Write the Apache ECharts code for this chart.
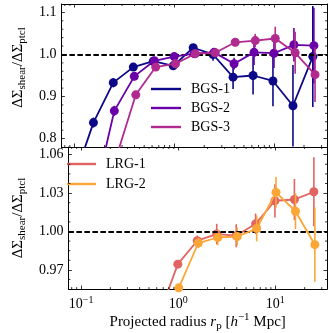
<!DOCTYPE html>
<html>
<head>
<meta charset="utf-8">
<script src="https://cdn.jsdelivr.net/npm/echarts@6/dist/echarts.min.js"></script>
<style>
  html, body { margin: 0; padding: 0; background: #fff; }
  #chart { width: 333px; height: 333px; }
</style>
</head>
<body>
<div id="chart"></div>
<script>
// projected radius of each bin [h^-1 Mpc], one list per sample (small offsets as in the plot)
const rBGS1 = [0.098, 0.155, 0.245, 0.389, 0.617, 0.977, 1.55, 2.45, 3.89, 6.17, 9.77, 15.5, 24.5];
const rBGS2 = [0.158, 0.251, 0.398, 0.631, 1.0, 1.585, 2.512, 3.981, 6.31, 10.0, 15.85, 25.12];
const rBGS3 = [0.262, 0.412, 0.652, 1.03, 1.63, 2.58, 4.09, 6.49, 10.3, 16.3, 25.8];
const rLRG1 = [0.624, 0.99, 1.57, 2.49, 3.95, 6.26, 9.9, 15.7, 24.9];
const rLRG2 = [0.638, 1.012, 1.61, 2.55, 4.05, 6.42, 10.15, 16.1, 25.5];

// ratio DeltaSigma_shear / DeltaSigma_ptcl and its error
const yBGS1 = [0.70, 0.838, 0.933, 0.970, 0.984, 0.973, 1.016, 1.000, 0.946, 0.950, 0.937, 0.878, 0.995];
const eBGS1 = [0.015, 0.012, 0.011, 0.008, 0.006, 0.007, 0.008, 0.015, 0.028, 0.045, 0.060, 0.097, 0.120];
const yBGS2 = [0.66, 0.866, 0.948, 0.985, 0.995, 1.002, 1.005, 0.978, 1.005, 1.003, 1.023, 1.021];
const eBGS2 = [0.015, 0.012, 0.009, 0.006, 0.005, 0.005, 0.006, 0.014, 0.030, 0.035, 0.040, 0.090];
const yBGS3 = [0.755, 0.904, 0.970, 0.978, 1.002, 1.004, 1.029, 1.033, 1.038, 1.004, 0.952];
const eBGS3 = [0.010, 0.008, 0.007, 0.006, 0.005, 0.006, 0.010, 0.016, 0.028, 0.050, 0.065];
const yLRG1 = [0.933, 0.9745, 0.9928, 0.998, 0.9967, 1.006, 1.024, 1.025, 1.031];
const eLRG1 = [0.004, 0.003, 0.004, 0.008, 0.009, 0.008, 0.013, 0.016, 0.027];
const yLRG2 = [0.90, 0.956, 0.991, 0.9953, 0.9961, 1.0023, 1.0306, 1.0158, 0.9897];
const eLRG2 = [0.004, 0.003, 0.004, 0.006, 0.007, 0.010, 0.012, 0.014, 0.029];

// axis ranges, tick values and minor ticks
const X_MIN = 0.074, X_MAX = 34;
const Y_TOP = [0.78, 1.12];
const Y_BOT = [0.955, 1.066];
const yTicksTop = [0.8, 0.9, 1.0, 1.1];
const yTicksBot = [0.97, 1.00, 1.03, 1.06];
const xMinor = [0.08, 0.09, 0.2, 0.3, 0.4, 0.5, 0.6, 0.7, 0.8, 0.9,
                2, 3, 4, 5, 6, 7, 8, 9, 20, 30];
const yMinorTop = [0.82, 0.84, 0.86, 0.88, 0.92, 0.94, 0.96, 0.98, 1.02, 1.04, 1.06, 1.08];
const yMinorBot = [0.9625, 0.9775, 0.985, 0.9925, 1.0075, 1.015, 1.0225, 1.0375, 1.045, 1.0525];

const colors = ['#0d0887', '#6a00a8', '#b12a90', '#e16462', '#fca636'];
const FONT = 'Liberation Serif';

const chart = echarts.init(document.getElementById('chart'));

function zip(r, y, e) {
  return r.map((v, i) => e ? [v, y[i], e[i]] : [v, y[i]]);
}

function lineSeries(name, r, y, color, g, z) {
  return {
    name: name, type: 'line', xAxisIndex: g * 2, yAxisIndex: g * 2,
    data: zip(r, y), symbol: 'circle', symbolSize: 9, showAllSymbol: true,
    color: color, lineStyle: { width: 1.8, color: color },
    itemStyle: { color: color }, clip: true, z: z, animation: false
  };
}

function errSeries(name, r, y, e, color, g, z) {
  return {
    name: name + ' err', type: 'custom', xAxisIndex: g * 2, yAxisIndex: g * 2,
    data: zip(r, y, e), clip: true, z: z, silent: true, animation: false,
    renderItem: function (params, api) {
      const lo = api.coord([api.value(0), api.value(1) - api.value(2)]);
      const hi = api.coord([api.value(0), api.value(1) + api.value(2)]);
      return {
        type: 'line',
        shape: { x1: lo[0], y1: lo[1], x2: hi[0], y2: hi[1] },
        style: { stroke: color, lineWidth: 1.6 }
      };
    }
  };
}

// minor ticks drawn on all four sides of a panel
function minorTickSeries(g, yr, yMinor) {
  const data = xMinor.map(v => [v, yr[0], 0]).concat(yMinor.map(v => [X_MIN, v, 1]));
  return {
    type: 'custom', xAxisIndex: g * 2, yAxisIndex: g * 2, data: data,
    silent: true, animation: false, z: 10,
    renderItem: function (params, api) {
      const k = api.value(2);
      const len = 2;
      const st = { stroke: '#000', lineWidth: 0.8 };
      if (k === 0) {
        const b = api.coord([api.value(0), yr[0]]);
        const t = api.coord([api.value(0), yr[1]]);
        return { type: 'group', children: [
          { type: 'line', shape: { x1: b[0], y1: b[1], x2: b[0], y2: b[1] - len }, style: st },
          { type: 'line', shape: { x1: t[0], y1: t[1], x2: t[0], y2: t[1] + len }, style: st }
        ]};
      }
      const l = api.coord([X_MIN, api.value(1)]);
      const r = api.coord([X_MAX, api.value(1)]);
      return { type: 'group', children: [
        { type: 'line', shape: { x1: l[0], y1: l[1], x2: l[0] + len, y2: l[1] }, style: st },
        { type: 'line', shape: { x1: r[0], y1: r[1], x2: r[0] - len, y2: r[1] }, style: st }
      ]};
    }
  };
}

function refLine(g) {
  return {
    type: 'line', xAxisIndex: g * 2, yAxisIndex: g * 2, data: [], z: 1, silent: true,
    markLine: {
      silent: true, symbol: 'none', animation: false, label: { show: false },
      lineStyle: { color: '#000', width: 1.8, type: [5.5, 2.5] },
      data: [{ yAxis: 1 }]
    }
  };
}

const rich = {
  a: { fontFamily: FONT, fontSize: 15, lineHeight: 20, color: '#000' },
  s: { fontFamily: FONT, fontSize: 11, lineHeight: 11, verticalAlign: 'bottom', color: '#000' },
  i: { fontFamily: FONT, fontSize: 15, lineHeight: 20, fontStyle: 'italic', color: '#000' },
  sup: { fontFamily: FONT, fontSize: 11, lineHeight: 11, verticalAlign: 'top', color: '#000' },
  gap: { width: 16, lineHeight: 20 }
};

function xAxisPair(g, labels) {
  const base = {
    type: 'log', gridIndex: g, min: X_MIN, max: X_MAX, logBase: 10,
    axisLine: { show: true, lineStyle: { color: '#000', width: 1 } },
    axisTick: { show: true, inside: true, length: 3.5, lineStyle: { color: '#000', width: 0.8 } },
    splitLine: { show: false }
  };
  const bottom = Object.assign({}, base, {
    position: 'bottom',
    axisLabel: {
      show: labels, margin: 6, color: '#000', fontFamily: FONT, fontSize: 14,
      formatter: function (v) {
        const l = Math.log10(v);
        if (Math.abs(l - Math.round(l)) > 1e-6) return '';
        const n = Math.round(l);
        return '{b|10}{p|' + (n < 0 ? '\u2212' + (-n) : n) + '}';
      },
      rich: {
        b: { fontFamily: FONT, fontSize: 14, lineHeight: 18, color: '#000' },
        p: { fontFamily: FONT, fontSize: 10, lineHeight: 10, verticalAlign: 'top', color: '#000' }
      }
    }
  });
  if (labels) {
    bottom.name = 'Projected radius {i|r}{s|p} {a|[}{i|h}{sup|\u22121}{a| Mpc]}';
    bottom.nameLocation = 'middle';
    bottom.nameGap = 17;
    bottom.nameTextStyle = { fontFamily: FONT, fontSize: 15, lineHeight: 20, color: '#000', rich: rich };
  }
  const top = Object.assign({}, base, { position: 'top', axisLabel: { show: false } });
  return [bottom, top];
}

function yAxisPair(g, yr, ticks, digits, shift) {
  const base = {
    type: 'value', gridIndex: g, min: yr[0], max: yr[1],
    axisLine: { show: true, lineStyle: { color: '#000', width: 1 } },
    axisTick: { show: true, inside: true, length: 3.5, customValues: ticks,
                lineStyle: { color: '#000', width: 0.8 } },
    splitLine: { show: false }
  };
  const left = Object.assign({}, base, {
    position: 'left',
    axisLabel: {
      margin: 5, color: '#000', fontFamily: FONT, fontSize: 14, customValues: ticks,
      formatter: function (v) { return v.toFixed(digits); }
    },
    name: (shift ? '{gap|}' : '') + '{a|\u0394\u03a3}{s|shear}{a|/\u0394\u03a3}{s|ptcl}',
    nameLocation: 'middle', nameRotate: 90, nameGap: 27,
    nameTextStyle: { fontFamily: FONT, fontSize: 15, lineHeight: 20, color: '#000', rich: rich }
  });
  const right = Object.assign({}, base, { position: 'right', axisLabel: { show: false } });
  return [left, right];
}

const option = {
  animation: false,
  backgroundColor: '#fff',
  grid: [
    { left: 53, top: 4, width: 274, height: 143 },
    { left: 53, top: 147, width: 274, height: 143 }
  ],
  xAxis: xAxisPair(0, false).concat(xAxisPair(1, true)),
  yAxis: yAxisPair(0, Y_TOP, yTicksTop, 1, true).concat(yAxisPair(1, Y_BOT, yTicksBot, 2, false)),
  legend: [
    {
      data: ['BGS-1', 'BGS-2', 'BGS-3'], orient: 'vertical', left: 151, top: 82,
      padding: 0, itemGap: 5, itemWidth: 30, itemHeight: 2.4, icon: 'rect',
      textStyle: { fontFamily: FONT, fontSize: 14, color: '#000', padding: [0, 0, 0, 5] },
      selectedMode: false
    },
    {
      data: ['LRG-1', 'LRG-2'], orient: 'vertical', left: 67, top: 157,
      padding: 0, itemGap: 6, itemWidth: 29, itemHeight: 2.4, icon: 'rect',
      textStyle: { fontFamily: FONT, fontSize: 14, color: '#000', padding: [0, 0, 0, 5] },
      selectedMode: false
    }
  ],
  series: [
    refLine(0), refLine(1),
    errSeries('BGS-1', rBGS1, yBGS1, eBGS1, colors[0], 0, 2),
    lineSeries('BGS-1', rBGS1, yBGS1, colors[0], 0, 3),
    errSeries('BGS-2', rBGS2, yBGS2, eBGS2, colors[1], 0, 4),
    lineSeries('BGS-2', rBGS2, yBGS2, colors[1], 0, 5),
    errSeries('BGS-3', rBGS3, yBGS3, eBGS3, colors[2], 0, 6),
    lineSeries('BGS-3', rBGS3, yBGS3, colors[2], 0, 7),
    errSeries('LRG-1', rLRG1, yLRG1, eLRG1, colors[3], 1, 2),
    lineSeries('LRG-1', rLRG1, yLRG1, colors[3], 1, 3),
    errSeries('LRG-2', rLRG2, yLRG2, eLRG2, colors[4], 1, 4),
    lineSeries('LRG-2', rLRG2, yLRG2, colors[4], 1, 5),
    minorTickSeries(0, Y_TOP, yMinorTop),
    minorTickSeries(1, Y_BOT, yMinorBot)
  ]
};

chart.setOption(option);
</script>
</body>
</html>
